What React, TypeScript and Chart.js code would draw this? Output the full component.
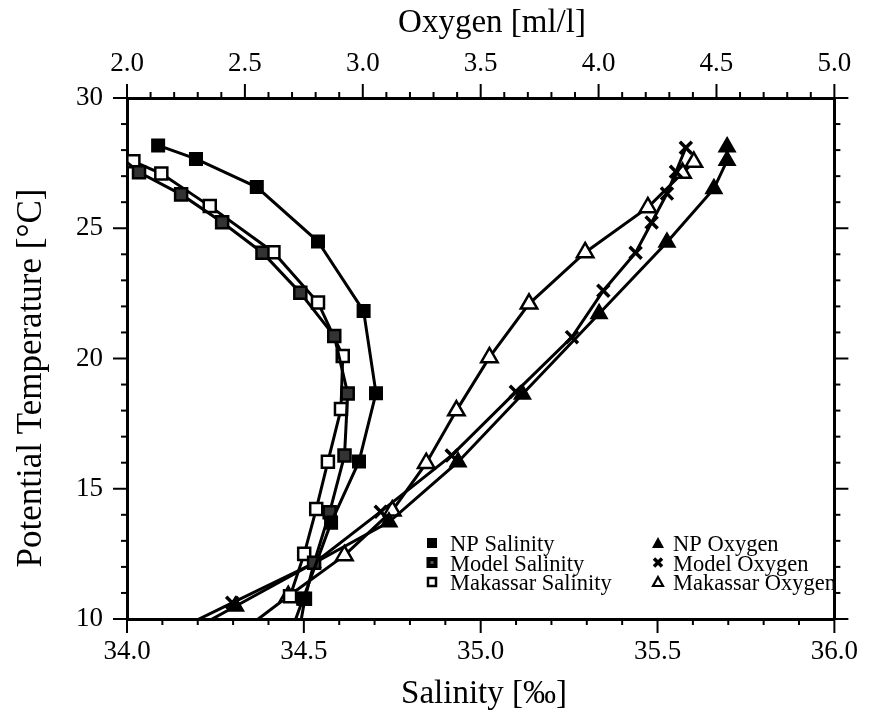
import React, { useEffect, useRef } from 'react';
import { Chart, registerables } from 'chart.js';

Chart.register(...registerables);

// ---- Data (temperature in °C, salinity in ‰, oxygen in ml/l) ----
const npSalinityT = [28.18, 27.66, 26.58, 24.49, 21.82, 18.67, 16.05, 13.7, 10.78, 9.0];
const npSalinity = [34.088, 34.195, 34.367, 34.54, 34.669, 34.704, 34.656, 34.577, 34.498, 34.45];

const modelSalinityT = [28.09, 27.15, 26.3, 25.23, 24.06, 22.52, 20.86, 18.66, 16.28, 14.1, 12.16, 10.78, 9.0];
const modelSalinity = [33.95, 34.034, 34.153, 34.269, 34.383, 34.49, 34.586, 34.624, 34.615, 34.573, 34.529, 34.503, 34.48];

const makSalinityT = [27.57, 27.1, 25.85, 24.08, 22.15, 20.1, 18.06, 16.04, 14.22, 12.5, 10.87];
const makSalinity = [34.018, 34.097, 34.234, 34.414, 34.54, 34.61, 34.605, 34.568, 34.535, 34.501, 34.461];

const npOxygenT = [28.12, 27.6, 26.52, 24.46, 21.72, 18.63, 16.03, 13.72, 10.49, 9.0];
const npOxygen = [4.545, 4.545, 4.489, 4.29, 4.002, 3.677, 3.404, 3.111, 2.46, 2.16];

const modelOxygenT = [28.09, 27.17, 26.33, 25.22, 24.06, 22.6, 20.82, 18.72, 16.28, 14.12, 12.16, 10.62, 9.0];
const modelOxygen = [4.37, 4.328, 4.29, 4.225, 4.157, 4.02, 3.887, 3.649, 3.377, 3.076, 2.796, 2.446, 2.08];

const makOxygenT = [27.54, 27.12, 25.8, 24.07, 22.1, 20.04, 18.0, 15.98, 14.16, 12.44, 10.87, 9.0];
const makOxygen = [4.404, 4.356, 4.209, 3.943, 3.705, 3.537, 3.397, 3.269, 3.125, 2.922, 2.684, 2.41];

const legendLabels = ['NP Salinity', 'Model Salinity', 'Makassar Salinity', 'NP Oxygen', 'Model Oxygen', 'Makassar Oxygen'];

const salinityRange = [34.0, 36.0];
const oxygenRange = [2.0, 5.0];
const tempRange = [10, 30];

const FONT = "'Liberation Serif', 'Times New Roman', Times, serif";

const pts = (xs: number[], ys: number[]) => xs.map((x, i) => ({ x, y: ys[i] }));

const tickPlugin = {
  id: 'customTicks',
  afterDraw(chart: any) {
    const { ctx, chartArea: a, scales } = chart;
    ctx.save();
    ctx.strokeStyle = '#000';
    ctx.lineWidth = 2;
    const MAJ = 14;
    const MIN = 6;
    const line = (x1: number, y1: number, x2: number, y2: number) => {
      ctx.beginPath();
      ctx.moveTo(x1, y1);
      ctx.lineTo(x2, y2);
      ctx.stroke();
    };
    for (let i = 0; i <= 20; i++) {
      const v = salinityRange[0] + i * 0.1;
      const px = scales.x.getPixelForValue(v);
      const len = i % 5 === 0 ? MAJ : MIN;
      line(px, a.bottom, px, a.bottom + len);
    }
    for (let i = 0; i <= 30; i++) {
      const v = oxygenRange[0] + i * 0.1;
      const px = scales.x2.getPixelForValue(v);
      const len = i % 5 === 0 ? MAJ : MIN;
      line(px, a.top, px, a.top - len);
    }
    for (let i = 0; i <= 20; i++) {
      const v = tempRange[0] + i;
      const py = scales.y.getPixelForValue(v);
      const len = i % 5 === 0 ? MAJ : MIN;
      line(a.left, py, a.left - len, py);
      line(a.right, py, a.right + len, py);
    }
    ctx.restore();
  },
};

const textPlugin = {
  id: 'titlesLegend',
  afterDraw(chart: any) {
    const { ctx } = chart;
    ctx.save();
    ctx.fillStyle = '#000';
    ctx.strokeStyle = '#000';
    ctx.textAlign = 'center';
    ctx.textBaseline = 'alphabetic';
    ctx.font = `33px ${FONT}`;
    ctx.fillText('Oxygen [ml/l]', 492, 32);
    ctx.fillText('Salinity [‰]', 484, 703);
    ctx.save();
    ctx.font = `35px ${FONT}`;
    ctx.translate(41, 378);
    ctx.rotate(-Math.PI / 2);
    ctx.fillText('Potential Temperature [°C]', 0, 0);
    ctx.restore();

    // legend
    const rows = [543, 562.5, 582];
    const cols = [432, 658];
    const textX = [450, 673];
    ctx.font = `22.5px ${FONT}`;
    ctx.textAlign = 'left';
    ctx.textBaseline = 'alphabetic';
    legendLabels.forEach((lab, i) => {
      const c = i < 3 ? 0 : 1;
      const r = i % 3;
      const cx = cols[c];
      const cy = rows[r];
      ctx.lineWidth = 2;
      if (i === 0) {
        ctx.fillStyle = '#000';
        ctx.fillRect(cx - 5, cy - 5, 10, 10);
      } else if (i === 1) {
        ctx.fillStyle = '#000';
        ctx.fillRect(cx - 5.5, cy - 5.5, 11, 11);
        ctx.fillStyle = '#555';
        ctx.fillRect(cx - 1.5, cy - 1.5, 3, 3);
      } else if (i === 2) {
        ctx.fillStyle = '#fff';
        ctx.fillRect(cx - 4.5, cy - 4.5, 9, 9);
        ctx.lineWidth = 2.5;
        ctx.strokeRect(cx - 4, cy - 4, 8, 8);
      } else if (i === 3) {
        ctx.fillStyle = '#000';
        ctx.beginPath();
        ctx.moveTo(cx, cy - 6);
        ctx.lineTo(cx + 6, cy + 5);
        ctx.lineTo(cx - 6, cy + 5);
        ctx.closePath();
        ctx.fill();
      } else if (i === 4) {
        ctx.lineWidth = 3.5;
        ctx.beginPath();
        ctx.moveTo(cx - 4, cy - 4);
        ctx.lineTo(cx + 4, cy + 4);
        ctx.moveTo(cx + 4, cy - 4);
        ctx.lineTo(cx - 4, cy + 4);
        ctx.stroke();
      } else {
        ctx.lineWidth = 2.2;
        ctx.beginPath();
        ctx.moveTo(cx, cy - 5);
        ctx.lineTo(cx + 5, cy + 4);
        ctx.lineTo(cx - 5, cy + 4);
        ctx.closePath();
        ctx.stroke();
      }
      ctx.fillStyle = '#000';
      ctx.fillText(lab, textX[c], cy + 8);
    });
    ctx.restore();
  },
};

export default function App() {
  const canvasRef = useRef<HTMLCanvasElement | null>(null);

  useEffect(() => {
    if (!canvasRef.current) return;
    const base = {
      showLine: true,
      borderColor: '#000',
      borderWidth: 3,
      pointBorderColor: '#000',
      tension: 0,
    };
    const tickFont = { family: FONT, size: 27 };
    const chart = new Chart(canvasRef.current, {
      type: 'scatter',
      data: {
        datasets: [
          {
            ...base,
            label: legendLabels[0],
            xAxisID: 'x',
            yAxisID: 'y',
            data: pts(npSalinity, npSalinityT),
            pointStyle: 'rect',
            pointRadius: 8.5,
            pointBackgroundColor: '#000',
            pointBorderWidth: 2,
          },
          {
            ...base,
            label: legendLabels[1],
            xAxisID: 'x',
            yAxisID: 'y',
            data: pts(modelSalinity, modelSalinityT),
            pointStyle: 'rect',
            pointRadius: 8.5,
            pointBackgroundColor: '#333',
            pointBorderWidth: 2.5,
          },
          {
            ...base,
            label: legendLabels[2],
            xAxisID: 'x',
            yAxisID: 'y',
            data: pts(makSalinity, makSalinityT),
            pointStyle: 'rect',
            pointRadius: 8.5,
            pointBackgroundColor: '#fff',
            pointBorderWidth: 2.5,
          },
          {
            ...base,
            label: legendLabels[3],
            xAxisID: 'x2',
            yAxisID: 'y',
            data: pts(npOxygen, npOxygenT),
            pointStyle: 'triangle',
            pointRadius: 9.5,
            pointBackgroundColor: '#000',
            pointBorderWidth: 1.5,
          },
          {
            ...base,
            label: legendLabels[4],
            xAxisID: 'x2',
            yAxisID: 'y',
            data: pts(modelOxygen, modelOxygenT),
            pointStyle: 'crossRot',
            pointRadius: 8.5,
            pointBackgroundColor: '#000',
            pointBorderWidth: 3.5,
          },
          {
            ...base,
            label: legendLabels[5],
            xAxisID: 'x2',
            yAxisID: 'y',
            data: pts(makOxygen, makOxygenT),
            pointStyle: 'triangle',
            pointRadius: 9.5,
            pointBackgroundColor: '#fff',
            pointBorderWidth: 2.5,
          },
        ],
      },
      options: {
        responsive: false,
        animation: false,
        devicePixelRatio: 1,
        layout: { padding: 0 },
        plugins: {
          legend: { display: false },
          tooltip: { enabled: false },
          title: { display: false },
        },
        scales: {
          x: {
            type: 'linear',
            position: 'bottom',
            min: salinityRange[0],
            max: salinityRange[1],
            ticks: {
              stepSize: 0.5,
              padding: 17,
              color: '#000',
              font: tickFont,
              callback: (v: any) => Number(v).toFixed(1),
            },
            grid: { display: true, drawOnChartArea: false, drawTicks: false },
            border: { display: true, color: '#000', width: 3 },
            afterFit: (s: any) => {
              s.height = 100;
            },
          },
          x2: {
            type: 'linear',
            position: 'top',
            min: oxygenRange[0],
            max: oxygenRange[1],
            ticks: {
              stepSize: 0.5,
              padding: 18,
              color: '#000',
              font: tickFont,
              callback: (v: any) => Number(v).toFixed(1),
            },
            grid: { display: true, drawOnChartArea: false, drawTicks: false },
            border: { display: true, color: '#000', width: 3 },
            afterFit: (s: any) => {
              s.height = 98;
            },
          },
          y: {
            type: 'linear',
            position: 'left',
            min: tempRange[0],
            max: tempRange[1],
            ticks: {
              stepSize: 5,
              padding: 24,
              color: '#000',
              font: tickFont,
            },
            grid: { display: true, drawOnChartArea: false, drawTicks: false },
            border: { display: true, color: '#000', width: 3 },
            afterFit: (s: any) => {
              s.width = 127;
            },
          },
          y2: {
            type: 'linear',
            position: 'right',
            min: tempRange[0],
            max: tempRange[1],
            ticks: { display: false, stepSize: 5 },
            grid: { display: true, drawOnChartArea: false, drawTicks: false },
            border: { display: true, color: '#000', width: 3 },
            afterFit: (s: any) => {
              s.width = 33;
            },
          },
        },
      },
      plugins: [tickPlugin, textPlugin],
    } as any);
    return () => chart.destroy();
  }, []);

  return (
    <div style={{ position: 'absolute', left: 0, top: 0, width: 875, height: 719, background: '#fff' }}>
      <canvas ref={canvasRef} width={875} height={719} style={{ display: 'block' }} />
    </div>
  );
}
